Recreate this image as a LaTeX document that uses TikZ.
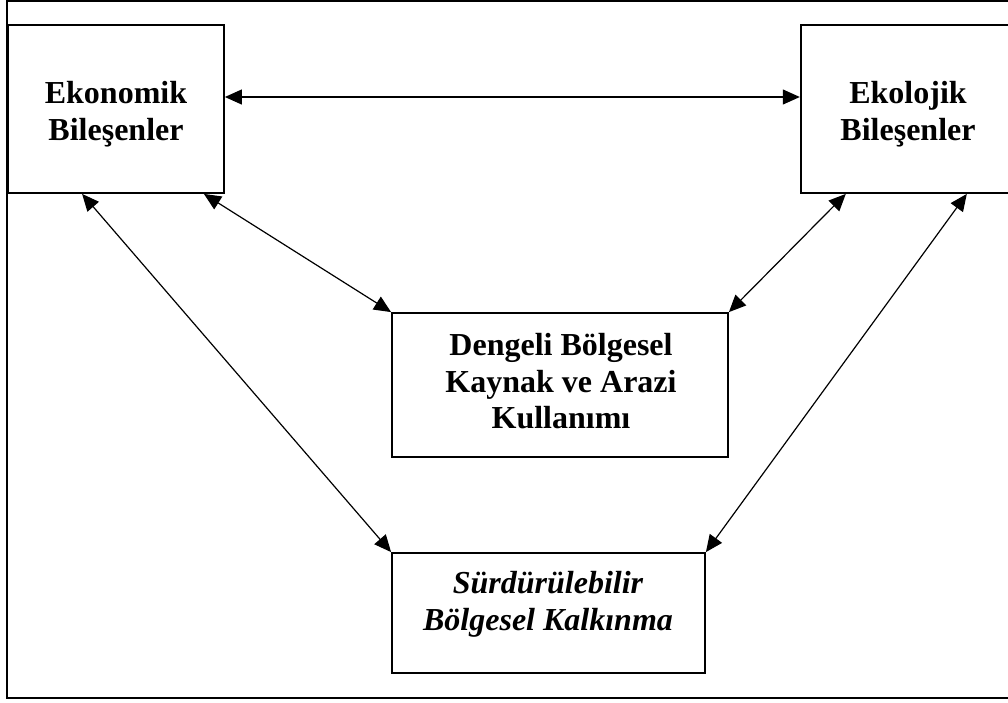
\documentclass[tikz,border=0pt]{standalone}
\usepackage{fontspec}
\setmainfont{Liberation Serif}
\usetikzlibrary{arrows.meta}
\tikzset{
  box/.style={draw, line width=1.8pt, rectangle, inner sep=0pt},
  txt/.style={anchor=base, inner sep=0pt, font=\fontsize{32}{36.5}\selectfont\bfseries},
  itxt/.style={txt, font=\fontsize{32}{36.5}\selectfont\bfseries\itshape},
  conn/.style={line width=1.2pt, {Triangle[length=17pt,width=15pt]}-{Triangle[length=17pt,width=15pt]}}
}
\begin{document}
\begin{tikzpicture}[x=1pt,y=-1pt]
\useasboundingbox (0,0) rectangle (1008,702);
\clip (0,0) rectangle (1008,702);
\fill[white] (0,0) rectangle (1008,702);
% outer frame
\draw[line width=1.6pt] (7,1) rectangle (1030,698);
% boxes
\node[box, minimum width=216pt, minimum height=168pt] (L) at (116,109) {};
\node[box, minimum width=216pt, minimum height=168pt] (R) at (908.7,109) {};
\node[box, minimum width=336pt, minimum height=144pt] (M) at (560,385) {};
\node[box, minimum width=313pt, minimum height=120pt] (B) at (548.5,613) {};
% texts
\node[txt] (L1) at (116,103) {Ekonomik};
\node[txt] (L2) at (116,140) {Bileşenler};
\node[txt] (R1) at (908,103) {Ekolojik};
\node[txt] (R2) at (908,140) {Bileşenler};
\node[txt] (M1) at (561,355) {Dengeli Bölgesel};
\node[txt] (M2) at (561,392) {Kaynak ve Arazi};
\node[txt] (M3) at (561,428) {Kullanımı};
\node[itxt] (B1) at (548,593) {Sürdürülebilir};
\node[itxt] (B2) at (548,630) {Bölgesel Kalkınma};
% connectors
\draw[conn] ([yshift=12pt]L.east) -- ([yshift=12pt]R.west);
\draw[conn] ([xshift=75pt]L.south west) -- (B.north west);
\draw[conn] ([xshift=-21pt]L.south east) -- (M.north west);
\draw[conn] ([xshift=46pt]R.south west) -- (M.north east);
\draw[conn] ([xshift=167pt]R.south west) -- (B.north east);
\end{tikzpicture}
\end{document}
